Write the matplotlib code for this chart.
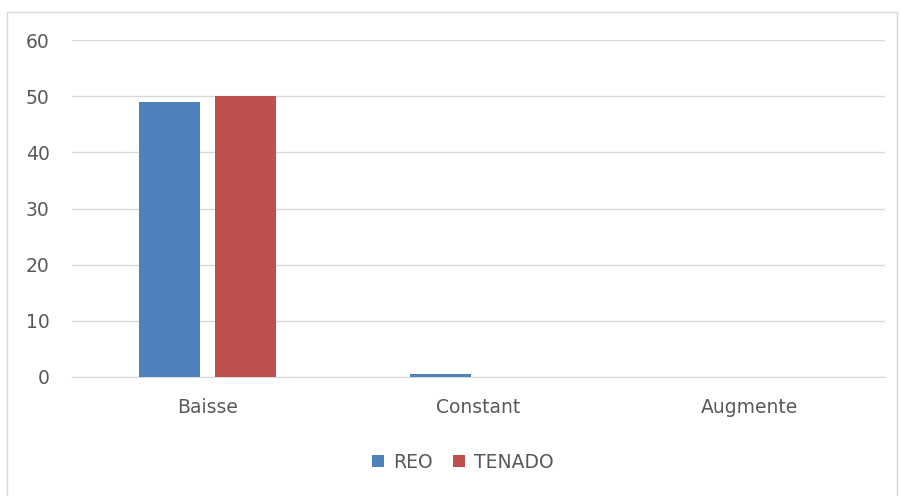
import matplotlib
matplotlib.use('agg')
import matplotlib.pyplot as plt
import numpy as np
from matplotlib.patches import Rectangle

categories = ['Baisse', 'Constant', 'Augmente']
reo = [49, 0.5, 0]
tenado = [50, 0, 0]
series_names = ['REO', 'TENADO']
colors = ['#4f81bd', '#c0504d']
text_col = '#595959'

plt.rcParams['font.family'] = ['DejaVu Sans']

fig = plt.figure(figsize=(9, 4.96), dpi=100)
# outer chart border
fig.patches.append(Rectangle((7/900, -0.01), 890/900, 1 - 12/496 + 0.01,
                             transform=fig.transFigure, fill=False,
                             edgecolor='#d9d9d9', linewidth=1))
ax = fig.add_axes([72/900, 1 - 377/496, 813/900, 337/496])

x = np.arange(len(categories))
w = 0.2236
gap = 0.059
ax.bar(x - (w + gap)/2, reo, w, color=colors[0], label=series_names[0], zorder=3)
ax.bar(x + (w + gap)/2, tenado, w, color=colors[1], label=series_names[1], zorder=3)

ax.set_xlim(-0.5, 2.5)
ax.set_ylim(0, 60)
ax.set_yticks(range(0, 61, 10))
ax.set_xticks(x)
ax.set_xticklabels(categories)
ax.grid(axis='y', color='#d9d9d9', linewidth=1, zorder=0)
for s in ['top', 'right', 'left']:
    ax.spines[s].set_visible(False)
ax.spines['bottom'].set_color('#d9d9d9')
ax.tick_params(axis='both', length=0, colors=text_col, labelsize=13.5)
ax.tick_params(axis='x', pad=15)
ax.tick_params(axis='y', pad=16)

fig.legend(loc='center', bbox_to_anchor=(463/900, 1 - 462/496), ncol=2,
           frameon=False, handlelength=0.6, handleheight=0.6,
           handletextpad=0.5, columnspacing=1.1,
           labelcolor=text_col, fontsize=13.5)

fig.savefig('out.png', dpi=100)
